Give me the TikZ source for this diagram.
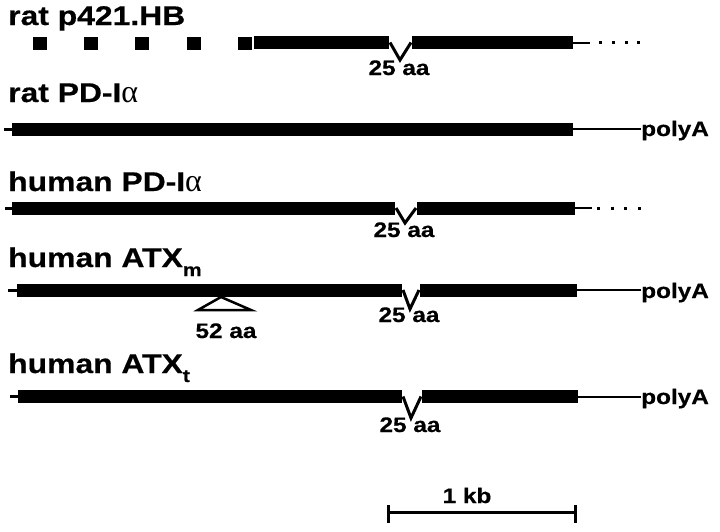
\documentclass[tikz,border=0pt]{standalone}
\usepackage{fontspec}
\setmainfont{Liberation Sans}[BoldFeatures={FakeBold=0.5}]
\newfontfamily\symf{Liberation Serif}
\tikzset{
  title/.style={anchor=base west, inner sep=0pt, font=\fontsize{27}{30}\selectfont\bfseries\addfontfeature{FakeStretch=1.18}},
  lbl/.style={anchor=base, inner sep=0pt, font=\fontsize{21}{24}\selectfont\bfseries\addfontfeature{FakeStretch=1.16}},
  polyA/.style={anchor=base west, inner sep=0pt, font=\fontsize{21}{24}\selectfont\bfseries\addfontfeature{FakeStretch=1.16}},
  thinline/.style={line width=2pt},
  notchline/.style={line width=3pt, miter limit=10},
  tickline/.style={line width=3pt},
}
\newcommand{\subt}[1]{\raisebox{-9pt}{\fontsize{18}{20}\selectfont #1}}
\newcommand{\alf}{{\symf\mdseries\fontsize{32}{34}\selectfont α}}
\begin{document}
\begin{tikzpicture}[x=1pt,y=-1pt]
\useasboundingbox (0,0) rectangle (720,531);
% ---------- row 1: rat p421.HB
\node[title] (t1) at (8,25) {rat p421.HB};
\foreach \x in {33,84,135,187,238} \fill (\x,37) rectangle ++(14,13);
\fill (254,36) rectangle (389,49);
\fill (412,36) rectangle (573,49);
\draw[notchline] (390,42.5) -- (400,60) -- (411,42.5);
\node[lbl] (n1) at (399,75) {25 aa};
\draw[thinline] (573,42.5) -- (590,42.5);
\foreach \x in {600,613,626,638} \fill (\x-1.5,41) rectangle ++(3,3);
% ---------- row 2: rat PD-I alpha
\node[title] (t2) at (8,102) {rat PD-I\alf};
\draw[tickline] (4,129) -- (13,129);
\fill (12,122.5) rectangle (573,135.5);
\coordinate (r2) at (573,129);
\node[polyA] (p2) at (641,136) {polyA};
\draw[thinline] (r2) -- (r2 -| p2.west);
% ---------- row 3: human PD-I alpha
\node[title] (t3) at (8,191) {human PD-I\alf};
\draw[tickline] (5,208) -- (13,208);
\fill (12,201.5) rectangle (395,214.5);
\fill (417,201.5) rectangle (575,214.5);
\draw[notchline] (396,208) -- (405,223) -- (416,208);
\node[lbl] (n3) at (404,237) {25 aa};
\draw[thinline] (575,208) -- (592,208);
\foreach \x in {598,612,625,639} \fill (\x-1.5,206.5) rectangle ++(3,3);
% ---------- row 4: human ATX_m
\node[title] (t4) at (8,267) {human ATX\subt{m}};
\draw[tickline] (8,290) -- (17,290);
\fill (17,283.5) rectangle (402,296.5);
\fill (420,283.5) rectangle (577,296.5);
\draw[notchline] (403,290) -- (410,309) -- (419,290);
\node[lbl] (n4) at (409,322) {25 aa};
\draw[line width=2.5pt, fill=white, line join=miter] (198,310) -- (221,297) -- (251,310) -- cycle;
\node[lbl] (n52) at (226,338) {52 aa};
\coordinate (r4) at (577,290);
\node[polyA] (p4) at (641,298) {polyA};
\draw[thinline] (r4) -- (r4 -| p4.west);
% ---------- row 5: human ATX_t
\node[title] (t5) at (8,373) {human ATX\subt{t}};
\draw[tickline] (10,396.5) -- (18,396.5);
\fill (18,390) rectangle (402,403);
\fill (422,390) rectangle (578,403);
\draw[notchline] (403,396.5) -- (411,418) -- (421,396.5);
\node[lbl] (n5) at (410,432) {25 aa};
\coordinate (r5) at (578,396.5);
\node[polyA] (p5) at (641,404) {polyA};
\draw[thinline] (r5) -- (r5 -| p5.west);
% ---------- scale bar
\coordinate (sL) at (388,512);
\coordinate (sR) at (575,512);
\draw[tickline] (sL) -- (sR);
\draw[tickline] ([yshift=7pt]sL) -- ([yshift=-11pt]sL);
\draw[tickline] ([yshift=7pt]sR) -- ([yshift=-11pt]sR);
\node[lbl] (kb) at (467,503) {1 kb};
\end{tikzpicture}
\end{document}
